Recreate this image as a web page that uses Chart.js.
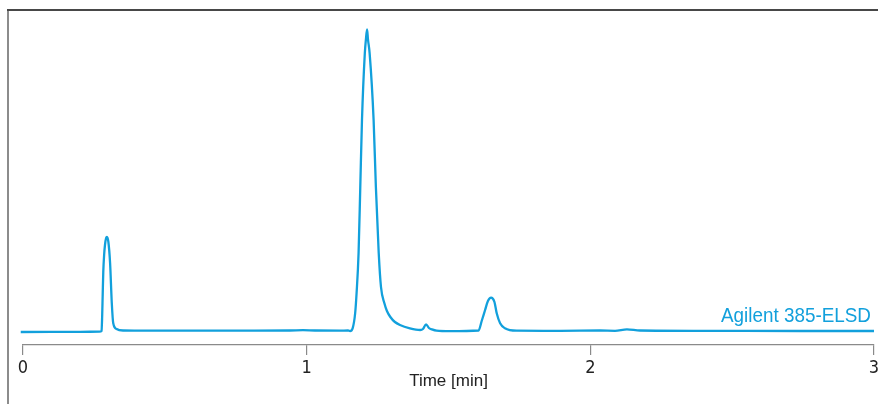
<!DOCTYPE html>
<html>
<head>
<meta charset="utf-8">
<script src="https://cdn.jsdelivr.net/npm/chart.js@4.4.1/dist/chart.umd.min.js"></script>
<style>
  html, body { margin: 0; padding: 0; background: #fff; }
  #wrap { position: relative; width: 878px; height: 404px; }
</style>
</head>
<body>
<div id="wrap"><canvas id="elsdChart" width="878" height="404"></canvas></div>
<script>
// ── Chromatogram trace (time in min, detector signal in arbitrary units) ──
const timeMin = [
  -0.008, 0.099, 0.201, 0.270, 0.277, 0.279, 0.281, 0.283, 0.286, 0.289,
  0.293, 0.296, 0.301, 0.307, 0.313, 0.318, 0.330, 0.353, 0.448, 0.624,
  0.800, 0.941, 0.987, 1.029, 1.117, 1.146, 1.153, 1.162, 1.171, 1.176,
  1.183, 1.189, 1.195, 1.205, 1.209, 1.213, 1.216, 1.222, 1.236, 1.244,
  1.254, 1.262, 1.274, 1.283, 1.295, 1.311, 1.329, 1.364, 1.400, 1.410,
  1.421, 1.431, 1.441, 1.458, 1.505, 1.606, 1.617, 1.629, 1.639, 1.650,
  1.662, 1.670, 1.682, 1.699, 1.740, 1.893, 2.034, 2.087, 2.129, 2.175,
  2.387, 2.739, 3.000, 3.011
];
const signal = [
  0.0, 0.1, 0.2, 0.3, 1.0, 15, 38, 60, 77, 87,
  94, 95, 90, 69, 29, 9, 3, 1.5, 1.3, 1.3,
  1.4, 1.5, 1.8, 1.5, 1.4, 1.5, 1.0, 3.7, 19, 39,
  79, 145, 212, 278.7, 293, 302.7, 293, 278.7, 212, 145,
  79, 45, 28.7, 21, 15, 10, 7, 3.7, 2.0, 3.0,
  7.7, 4.0, 2.7, 1.3, 0.8, 1.5, 11, 22, 31, 34.3,
  30, 18.7, 8.7, 3.7, 1.3, 1.2, 1.5, 1.2, 2.7, 1.5,
  1.2, 1.0, 1.0, 1.0
];
const xTicks = [0, 1, 2, 3];
const traceLabel = 'Agilent 385-ELSD';
const xTitle = 'Time [min]';

const BLUE = '#12a0dc';
const points = timeMin.map((t, i) => ({ x: t, y: signal[i] }));

// frame: grey left edge + dark top edge
const framePlugin = {
  id: 'frame',
  beforeDraw(chart) {
    const c = chart.ctx;
    c.save();
    c.lineWidth = 2;
    c.strokeStyle = '#8c8c8c';
    c.beginPath(); c.moveTo(8, 10); c.lineTo(8, chart.height); c.stroke();
    c.strokeStyle = '#474747';
    c.lineWidth = 1.8;
    c.beginPath(); c.moveTo(7, 10); c.lineTo(chart.width, 10); c.stroke();
    c.restore();
  }
};

// trace label at the right end of the baseline (condensed look via x-scale)
const labelPlugin = {
  id: 'traceLabel',
  afterDatasetsDraw(chart) {
    const c = chart.ctx;
    const y = chart.scales.y.getPixelForValue(10.3);
    const right = chart.chartArea.right - 3;
    c.save();
    c.font = '21px "Liberation Sans", Arial, sans-serif';
    const w = c.measureText(traceLabel).width;
    const sx = 150 / w;
    c.translate(right, y);
    c.scale(sx, 1);
    c.fillStyle = BLUE;
    c.textAlign = 'right';
    c.textBaseline = 'alphabetic';
    c.fillText(traceLabel, 0, 0);
    c.restore();
  }
};

new Chart(document.getElementById('elsdChart'), {
  type: 'line',
  data: {
    datasets: [{
      label: traceLabel,
      data: points,
      borderColor: BLUE,
      borderWidth: 2.3,
      pointRadius: 0,
      fill: false,
      cubicInterpolationMode: 'monotone',
      clip: false
    }]
  },
  options: {
    responsive: false,
    animation: false,
    events: [],
    layout: { padding: { left: 23, right: 4, top: 10, bottom: 0 } },
    plugins: { legend: { display: false }, tooltip: { enabled: false } },
    scales: {
      x: {
        type: 'linear',
        min: 0, max: 3,
        afterBuildTicks: s => { s.ticks = xTicks.map(v => ({ value: v })); },
        afterFit: s => { s.height = 59; s.paddingLeft = 0; s.paddingRight = 0; },
        border: { display: true, color: '#8a8a8a', width: 1.2 },
        grid: { drawOnChartArea: false, drawTicks: true, tickLength: 10, color: '#8a8a8a', lineWidth: 1.2 },
        ticks: {
          color: '#222', padding: 3, maxRotation: 0,
          font: { family: '"DejaVu Sans Condensed", sans-serif', size: 18 }
        },
        title: {
          display: true, text: xTitle, color: '#222',
          font: { family: '"Liberation Sans", Arial, sans-serif', size: 17 },
          padding: { top: 0, bottom: 12 }
        }
      },
      y: {
        display: false,
        min: -13, max: 322
      }
    }
  },
  plugins: [framePlugin, labelPlugin]
});
</script>
</body>
</html>
